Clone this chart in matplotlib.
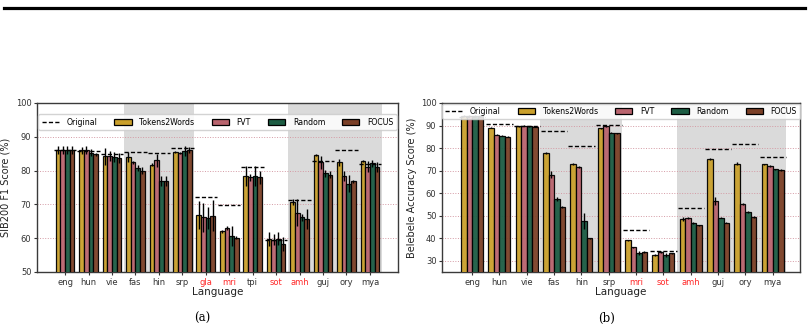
import numpy as np
import matplotlib
matplotlib.use("Agg")
import matplotlib.pyplot as plt
from matplotlib.lines import Line2D
from matplotlib.patches import Patch

# ---- data: SIB200 (a) ----
sib_langs = ["eng", "hun", "vie", "fas", "hin", "srp", "gla", "mri", "tpi", "sot", "amh", "guj", "ory", "mya"]
sib_orig = [86.0, 85.7, 84.9, 85.4, 85.2, 86.7, 72.2, 69.8, 81.2, 59.5, 71.3, 82.8, 86.0, 82.0]
sib_t2w = [86.0, 86.0, 84.2, 84.1, 81.8, 85.5, 66.8, 62.0, 78.5, 59.8, 70.7, 84.6, 82.4, 82.7]
sib_fvt = [86.0, 86.0, 84.2, 82.4, 83.0, 85.3, 66.2, 63.0, 78.0, 59.6, 67.5, 82.4, 78.5, 81.2]
sib_rnd = [86.0, 85.3, 84.1, 80.8, 76.8, 85.9, 66.0, 60.6, 78.5, 59.9, 66.2, 79.2, 76.1, 82.1]
sib_foc = [86.0, 84.8, 83.6, 80.0, 77.0, 86.1, 66.7, 60.2, 78.0, 58.3, 65.7, 78.8, 76.8, 81.0]
sib_t2w_err = [1.2, 1.0, 2.5, 1.5, 0.5, 0.4, 4.2, 0.5, 3.0, 2.0, 1.0, 0.3, 1.0, 0.3]
sib_fvt_err = [1.2, 1.2, 1.5, 0.5, 2.0, 0.3, 4.3, 0.7, 1.0, 1.5, 4.0, 2.0, 1.5, 1.5]
sib_rnd_err = [1.2, 1.0, 1.5, 1.0, 1.5, 1.5, 3.3, 3.0, 3.0, 2.0, 1.0, 1.0, 2.5, 1.0]
sib_foc_err = [1.2, 0.5, 1.5, 1.0, 1.5, 1.0, 4.6, 0.5, 2.0, 2.0, 3.0, 1.0, 0.5, 1.5]
sib_red = ["gla", "mri", "sot", "amh"]
sib_shade = [(2.5, 5.5), (9.5, 13.5)]

# ---- data: Belebele (b) ----
bel_langs = ["eng", "hun", "vie", "fas", "hin", "srp", "mri", "sot", "amh", "guj", "ory", "mya"]
bel_orig = [93.9, 90.5, 90.0, 87.5, 80.9, 90.2, 43.6, 34.5, 53.6, 79.7, 81.8, 76.0]
bel_t2w = [94.2, 89.0, 89.7, 77.9, 72.9, 88.7, 39.0, 32.6, 48.6, 75.1, 73.1, 72.8]
bel_fvt = [94.2, 85.9, 90.0, 68.1, 71.6, 89.6, 36.0, 33.8, 48.8, 56.4, 55.1, 72.0]
bel_rnd = [94.2, 85.5, 89.7, 57.5, 47.7, 86.9, 33.4, 32.5, 46.8, 49.1, 51.6, 70.6]
bel_foc = [94.2, 85.0, 89.5, 53.8, 40.0, 86.5, 33.8, 33.3, 45.7, 46.9, 49.4, 70.3]
bel_t2w_err = [0.3, 0.3, 0.3, 0.5, 0.3, 0.3, 0.3, 0.3, 0.8, 0.6, 0.7, 0.3]
bel_fvt_err = [0.3, 0.3, 0.3, 1.5, 0.6, 0.3, 0.3, 0.3, 0.5, 1.8, 0.5, 0.4]
bel_rnd_err = [0.3, 0.3, 0.3, 1.0, 3.5, 0.3, 1.0, 0.8, 0.3, 0.3, 0.3, 0.3]
bel_foc_err = [0.3, 0.3, 0.3, 0.3, 0.3, 0.3, 0.4, 0.3, 0.3, 0.3, 0.3, 0.3]
bel_red = ["mri", "sot", "amh"]
bel_shade = [(2.5, 5.5), (7.5, 11.5)]

methods = ["Tokens2Words", "FVT", "Random", "FOCUS"]
colors = ["#caa02c", "#b9646e", "#1c5c43", "#7b4027"]

plt.rcParams["font.family"] = "DejaVu Sans"

fig = plt.figure(figsize=(8.09, 3.33), dpi=100)
ax1 = fig.add_axes([0.0457, 0.1832, 0.4463, 0.5075])
ax2 = fig.add_axes([0.5464, 0.1832, 0.4425, 0.5075])


def draw(ax, langs, orig, vals, errs, red, shade, ylim, yticks, ylabel, xlim, ypad):
    x = np.arange(len(langs))
    w = 0.2
    for a, b in shade:
        ax.axvspan(a, b, color="#dadada", zorder=0, lw=0)
    for k in range(4):
        ax.bar(x + (k - 1.5) * w, vals[k], w, color=colors[k], edgecolor="black",
               linewidth=0.9, yerr=errs[k], error_kw=dict(ecolor="black", elinewidth=1.0, capsize=0),
               zorder=3, alpha=0.95)
    ax.hlines(orig, x - 0.48, x + 0.48, colors="black", linestyles=(0, (3, 1.6)), linewidth=1.0, zorder=4)
    ax.set_ylim(*ylim)
    ax.set_xlim(*xlim)
    ax.set_yticks(yticks)
    ax.yaxis.grid(True, linestyle=":", color="#d49aa4", linewidth=0.7, zorder=1)
    ax.set_axisbelow(True)
    ax.set_xticks(x)
    ax.set_xticklabels(langs, fontsize=6)
    ax.tick_params(axis="y", labelsize=6, length=2.5, pad=1.5, colors="#333333")
    ax.tick_params(axis="x", length=2.5, pad=2, colors="#333333")
    for lab in ax.get_xticklabels():
        lab.set_color("#ff2a2a" if lab.get_text() in red else "#333333")
    for s in ax.spines.values():
        s.set_color("#3a3a3a")
        s.set_linewidth(1.0)
    ax.set_xlabel("Language", fontsize=7.5, labelpad=0, color="#222222")
    ax.set_ylabel(ylabel, fontsize=7, labelpad=ypad, color="#222222")
    handles = [Line2D([0], [0], color="black", linestyle=(0, (3, 1.6)), linewidth=1.0)]
    handles += [Patch(facecolor=c, edgecolor="black", linewidth=0.9) for c in colors]
    return handles


h = draw(ax1, sib_langs, sib_orig, [sib_t2w, sib_fvt, sib_rnd, sib_foc],
         [sib_t2w_err, sib_fvt_err, sib_rnd_err, sib_foc_err], sib_red, sib_shade,
         (50, 100), [50, 60, 70, 80, 90, 100], "SIB200 F1 Score (%)", (-1.2, 14.2), 4)
ax1.legend(h, ["Original"] + methods, loc="upper center", bbox_to_anchor=(0.5, 0.955), ncol=5,
           fontsize=5.6, frameon=True, handlelength=2.2, columnspacing=2.2, handletextpad=1.0,
           borderpad=0.4, framealpha=0.85, edgecolor="#cccccc")

h = draw(ax2, bel_langs, bel_orig, [bel_t2w, bel_fvt, bel_rnd, bel_foc],
         [bel_t2w_err, bel_fvt_err, bel_rnd_err, bel_foc_err], bel_red, bel_shade,
         (25, 100), [30, 40, 50, 60, 70, 80, 90, 100], "Belebele Accuracy Score (%)", (-1.1, 12.0), 3)
ax2.legend(h, ["Original"] + methods, loc="upper center", bbox_to_anchor=(0.5, 1.02), ncol=5,
           fontsize=5.6, frameon=True, handlelength=2.2, columnspacing=2.2, handletextpad=1.0,
           borderpad=0.4, framealpha=0.85, edgecolor="#cccccc")

# top rule and sub-captions
fig.add_artist(Line2D([4 / 809, 805 / 809], [1 - 7.5 / 333, 1 - 7.5 / 333], color="black", linewidth=2.3))
fig.text(202 / 809, 1 - 318 / 333, "(a)", ha="center", va="center", fontsize=8.5, family="DejaVu Serif")
fig.text(607 / 809, 1 - 318 / 333, "(b)", ha="center", va="center", fontsize=8.5, family="DejaVu Serif")

fig.savefig("out.png", dpi=100)
